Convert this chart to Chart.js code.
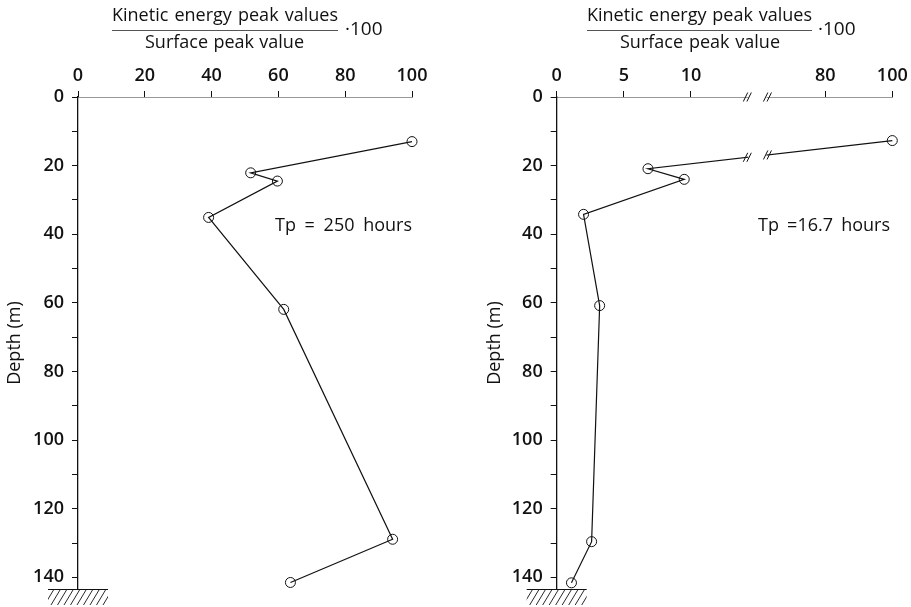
<!DOCTYPE html>
<html><head><meta charset="utf-8">
<script src="https://cdn.jsdelivr.net/npm/chart.js@4.4.0/dist/chart.umd.min.js"></script>
<style>
html,body{margin:0;padding:0;background:#fff;}
#wrap{position:relative;width:911px;height:607px;background:#fff;}
.box{position:absolute;top:0;height:607px;}
</style></head><body>
<div id="wrap">
<div class="box" style="left:0;width:455px"><canvas id="c1" width="455" height="607"></canvas></div>
<div class="box" style="left:455px;width:456px"><canvas id="c2" width="456" height="607"></canvas></div>
</div>
<script>
// ---- data ----
const depthTicks = [0,10,20,30,40,50,60,70,80,90,100,110,120,130,140];
const leftXTicks = [0,20,40,60,80,100];
const rightXTicks = [0,5,10,80,100];
const leftEnergy = [100, 51.7, 59.7, 39.1, 61.6, 94.2, 63.6];
const leftDepth  = [13.0, 22.1, 24.5, 35.1, 61.9, 128.9, 141.5];
const rightEnergy = [100, 6.8, 9.5, 2.0, 3.2, 2.6, 1.1];
const rightDepth  = [12.7, 20.9, 24.0, 34.2, 60.8, 129.6, 141.6];
const titleTop = 'Kinetic energy peak values';
const titleBottom = 'Surface peak value';
const titleFactor = '·100';
const leftNote = 'Tp = 250 hours';
const rightNote = 'Tp =16.7 hours';
const depthTitle = 'Depth (m)';

const FONT = "'Open Sans', 'DejaVu Sans', sans-serif";
const INK = '#111';
// broken right axis: 0..~14 linear, then 80..100 compressed (1 unit = 4)
const BREAK_LO = 14.2, BREAK_HI = 15.7;
function identity(v){ return v; }
function brk(v){ return v <= BREAK_LO ? v : 20 + (v - 80) / 4; }

function fitText(ctx, text, cx, cy, target){
  ctx.save();
  try { ctx.wordSpacing = '0px'; } catch(e){}
  const w = ctx.measureText(text).width;
  const spaces = (text.match(/ /g) || []).length;
  if (spaces > 0 && target > w) {
    try { ctx.wordSpacing = ((target - w) / spaces) + 'px'; } catch(e){}
  }
  ctx.textAlign = 'center';
  ctx.textBaseline = 'middle';
  ctx.fillText(text, cx, cy);
  ctx.restore();
}
function slash2(ctx, x, y){
  ctx.beginPath();
  for (const k of [-1.8, 1.8]) {
    ctx.moveTo(x + k - 2.2, y + 4.5);
    ctx.lineTo(x + k + 2.2, y - 4.5);
  }
  ctx.stroke();
}

function makeChart(id, cfg){
  const deco = {
    id: 'deco',
    afterDraw(chart){
      const ctx = chart.ctx;
      const ca = chart.chartArea;
      const xs = chart.scales.x;
      ctx.save();
      ctx.fillStyle = INK;
      ctx.strokeStyle = INK;
      // fraction title
      ctx.font = `18px ${FONT}`;
      fitText(ctx, titleTop, cfg.numCX, 16, cfg.numW);
      fitText(ctx, titleBottom, cfg.denCX, 43, cfg.denW);
      ctx.strokeStyle = '#555';
      ctx.lineWidth = 1;
      ctx.beginPath(); ctx.moveTo(cfg.lineX0, 30.5); ctx.lineTo(cfg.lineX1, 30.5); ctx.stroke();
      ctx.font = `19px ${FONT}`;
      ctx.textAlign = 'left'; ctx.textBaseline = 'middle';
      ctx.fillText(titleFactor, cfg.factorX, 30);
      // note
      ctx.font = `18px ${FONT}`;
      fitText(ctx, cfg.note, cfg.noteCX, 226, cfg.noteW);
      // sea bed hatch
      ctx.strokeStyle = INK;
      const ax = ca.left, by = ca.bottom;
      ctx.lineWidth = 1;
      ctx.beginPath(); ctx.moveTo(ax - 30, by + 0.5); ctx.lineTo(ax + 30, by + 0.5); ctx.stroke();
      ctx.save();
      ctx.beginPath(); ctx.rect(ax - 30, by + 1, 60, 15); ctx.clip();
      ctx.lineWidth = 0.9;
      ctx.beginPath();
      for (let x = ax - 40; x < ax + 40; x += 6.5) {
        ctx.moveTo(x, by + 16); ctx.lineTo(x + 9, by + 1);
      }
      ctx.stroke();
      ctx.restore();
      // axis / line break marks
      if (cfg.broken) {
        const b1 = xs.getPixelForValue(BREAK_LO), b2 = xs.getPixelForValue(BREAK_HI);
        const ty = ca.top;
        ctx.fillStyle = '#fff';
        ctx.fillRect(b1 + 1, ty - 2, b2 - b1 - 2, 4);
        ctx.strokeStyle = INK; ctx.lineWidth = 1;
        slash2(ctx, b1, ty); slash2(ctx, b2, ty);
        const meta = chart.getDatasetMeta(0);
        const p0 = meta.data[0], p1 = meta.data[1];
        const yAt = (px) => p1.y + (p0.y - p1.y) * (px - p1.x) / (p0.x - p1.x);
        const y1 = yAt(b1), y2 = yAt(b2);
        ctx.strokeStyle = '#fff'; ctx.lineWidth = 3;
        ctx.beginPath(); ctx.moveTo(b1 + 1, y1 - (y1 - y2) * 1 / (b2 - b1)); ctx.lineTo(b2 - 1, y2 + (y1 - y2) * 1 / (b2 - b1)); ctx.stroke();
        ctx.strokeStyle = INK; ctx.lineWidth = 1;
        slash2(ctx, b1, y1); slash2(ctx, b2, y2);
      }
      ctx.restore();
    }
  };
  const tickFont = { family: FONT, size: 18, weight: '600' };
  return new Chart(document.getElementById(id), {
    type: 'scatter',
    data: {
      datasets: [{
        data: cfg.energy.map((v, i) => ({ x: cfg.tf(v), y: cfg.depth[i] })),
        showLine: true,
        borderColor: INK,
        borderWidth: 1.2,
        pointRadius: 5,
        pointHoverRadius: 5,
        pointBackgroundColor: 'rgba(255,255,255,0)',
        pointBorderColor: INK,
        pointBorderWidth: 1,
        tension: 0,
        clip: false
      }]
    },
    options: {
      responsive: false,
      animation: false,
      events: [],
      layout: { padding: cfg.padding },
      plugins: { legend: { display: false }, tooltip: { enabled: false } },
      scales: {
        x: {
          type: 'linear', position: 'top', min: 0, max: cfg.xMax,
          afterBuildTicks: s => { s.ticks = cfg.xTicks.map(v => ({ value: cfg.tf(v) })); },
          afterFit: s => { s.height = 30; s.paddingLeft = 0; s.paddingRight = 0; },
          ticks: { callback: (v, i) => String(cfg.xTicks[i]), font: tickFont, color: INK, padding: 4, maxRotation: 0, autoSkip: false },
          grid: { drawOnChartArea: false, drawTicks: true, tickLength: 6, color: INK, lineWidth: 1 },
          border: { display: true, color: '#999', dash: [2, 3], width: 1 }
        },
        y: {
          type: 'linear', reverse: true, min: 0, max: 143.4,
          afterBuildTicks: s => { s.ticks = depthTicks.map(v => ({ value: v })); },
          afterFit: s => { s.width = cfg.yW; s.paddingTop = 0; s.paddingBottom = 0; },
          ticks: { callback: v => (v % 20 === 0 ? String(v) : ''), font: tickFont, color: INK, padding: 8, autoSkip: false },
          grid: { drawOnChartArea: false, drawTicks: true, tickLength: 6, color: INK, lineWidth: 1 },
          border: { display: true, color: INK, width: 1.3 },
          title: { display: true, text: depthTitle, color: INK, font: { family: FONT, size: 18, weight: '500' }, padding: { top: 4, bottom: 0 } }
        }
      }
    },
    plugins: [deco]
  });
}

makeChart('c1', {
  energy: leftEnergy, depth: leftDepth, tf: identity, xTicks: leftXTicks, xMax: 100,
  padding: { left: 0, top: 67, right: 43, bottom: 18 }, yW: 78,
  numCX: 225, numW: 226, denCX: 224.5, denW: 159, lineX0: 112, lineX1: 338, factorX: 345,
  note: leftNote, noteCX: 343.5, noteW: 137, broken: false
});
makeChart('c2', {
  energy: rightEnergy, depth: rightDepth, tf: brk, xTicks: rightXTicks, xMax: 25,
  padding: { left: 25, top: 67, right: 18.7, bottom: 18 }, yW: 76.7,
  numCX: 244.5, numW: 225, denCX: 245, denW: 160, lineX0: 132, lineX1: 357, factorX: 363,
  note: rightNote, noteCX: 369, noteW: 132, broken: true
});
</script>
</body></html>
